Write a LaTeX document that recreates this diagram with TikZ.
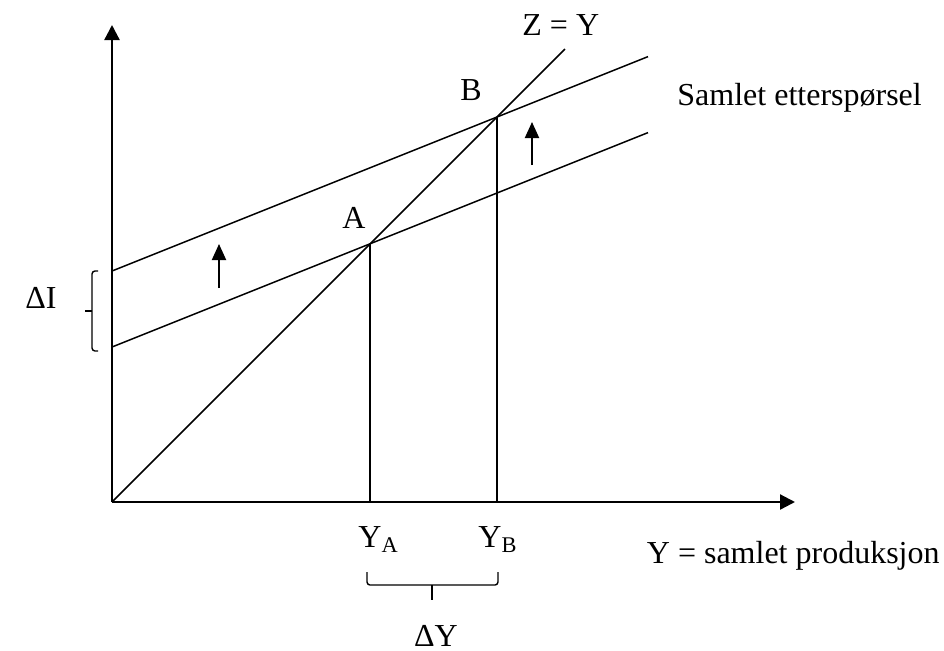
\documentclass[tikz,border=0pt]{standalone}
\usepackage{fontspec}
\setmainfont{Liberation Serif}
\usetikzlibrary{arrows.meta}
\begin{document}
\begin{tikzpicture}[x=0.5pt,y=-0.5pt,
  axis/.style={line width=1.15pt,-{Triangle[length=7.5pt,width=7.5pt]}},
  curve/.style={line width=0.75pt},
  shiftarrow/.style={line width=1pt,-{Triangle[length=8pt,width=7pt]}},
  brace/.style={line width=0.7pt,rounded corners=1.5pt},
  lbl/.style={inner sep=0pt,font=\fontsize{16}{19}\selectfont}]
\useasboundingbox (0,0) rectangle (944,650);
% key points
\coordinate (O) at (112,502);
\coordinate (ytop) at (112,25);
\coordinate (xend) at (795,502);
\coordinate (ZY) at (565,49);
\coordinate (D1) at (112,271);
\coordinate (E1) at (648,56.6);
\coordinate (D0) at (112,347);
\coordinate (E0) at (648,132.6);
\coordinate (A) at (370,243.8);
\coordinate (B) at (497,117);
\coordinate (YA) at (370,502);
\coordinate (YB) at (497,502);
% axes
\draw[axis] (O) -- (ytop);
\draw[axis] (O) -- (xend);
% lines
\draw[curve] (O) -- (ZY);
\draw[curve] (D1) -- (E1);
\draw[curve] (D0) -- (E0);
\draw[curve] (A) -- (YA);
\draw[curve] (B) -- (YB);
% shift arrows
\coordinate (s1a) at (219,288);
\coordinate (s1b) at (219,244);
\coordinate (s2a) at (532,165);
\coordinate (s2b) at (532,122);
\draw[shiftarrow] (s1a) -- (s1b);
\draw[shiftarrow] (s2a) -- (s2b);
% brace Delta I
\coordinate (bi1) at (98,271);
\coordinate (bi2) at (98,351);
\coordinate (bim) at (92,311);
\coordinate (bit) at (85,311);
\draw[brace] (bi1) -- (92,271) -- (92,351) -- (bi2);
\draw[line width=0.7pt] (bim) -- (bit);
% brace Delta Y
\coordinate (by1) at (367,572);
\coordinate (by2) at (498,572);
\coordinate (bym) at (432,585);
\coordinate (byt) at (432,600);
\draw[brace] (by1) -- (367,585) -- (498,585) -- (by2);
\draw[line width=0.7pt] (bym) -- (byt);
% labels
\node[lbl,anchor=base west] (lzy) at (522,35) {Z = Y};
\node[lbl,anchor=base west] (lb) at (460,100) {B};
\node[lbl,anchor=base west] (la) at (342,228) {A};
\node[lbl,anchor=base west] (lse) at (677,105) {Samlet etterspørsel};
\node[lbl,anchor=base east] (ldi) at (57,308) {ΔI};
\node[lbl,anchor=base west] (lya) at (358,547) {Y\textsubscript{A}};
\node[lbl,anchor=base west] (lyb) at (478,547) {Y\textsubscript{B}};
\node[lbl,anchor=base east] (lsp) at (940,563) {Y = samlet produksjon};
\node[lbl,anchor=base] (ldy) at (436,646) {ΔY};
\end{tikzpicture}
\end{document}
